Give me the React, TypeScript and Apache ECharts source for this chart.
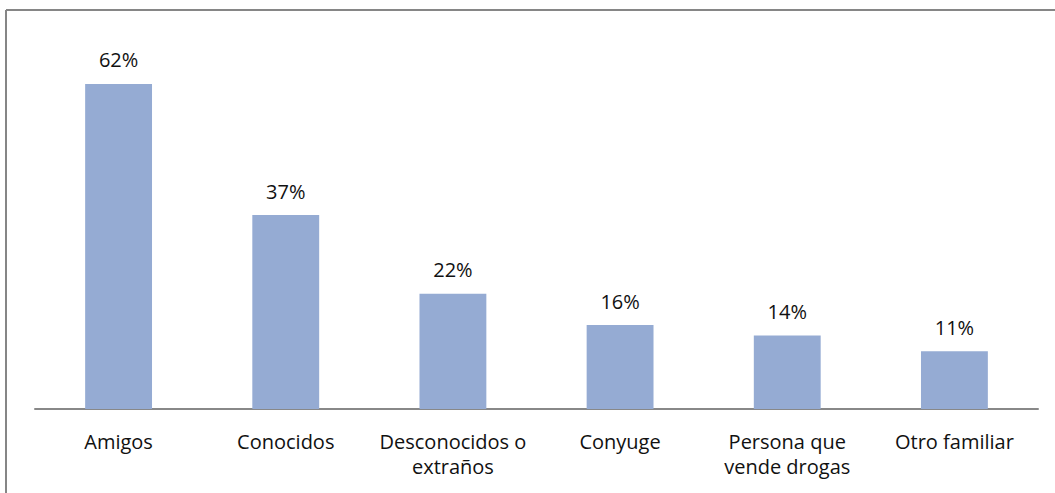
import React, { useEffect, useRef } from "react";
import * as echarts from "echarts";

const categories = [
  "Amigos",
  "Conocidos",
  "Desconocidos o\nextraños",
  "Conyuge",
  "Persona que\nvende drogas",
  "Otro familiar",
];
const values = [62, 37, 22, 16, 14, 11];
const valueMax = 70;

export default function App() {
  const ref = useRef<HTMLDivElement>(null);

  useEffect(() => {
    document.body.style.margin = "0";
    if (!ref.current) return;
    const chart = echarts.init(ref.current, undefined, { renderer: "svg" });
    chart.setOption({
      animation: false,
      backgroundColor: "#ffffff",
      textStyle: { fontFamily: "'Open Sans', Lato, sans-serif" },
      graphic: [
        {
          type: "line",
          shape: { x1: 6, y1: 10, x2: 1055, y2: 10 },
          style: { stroke: "#868686", lineWidth: 2 },
          silent: true,
        },
        {
          type: "line",
          shape: { x1: 6, y1: 10, x2: 6, y2: 493 },
          style: { stroke: "#868686", lineWidth: 2 },
          silent: true,
        },
      ],
      grid: { left: 35, right: 17, top: 42, bottom: 84, containLabel: false },
      xAxis: {
        type: "category",
        data: categories,
        axisLine: { lineStyle: { color: "#888888", width: 2 } },
        axisTick: { show: false },
        axisLabel: {
          color: "#111111",
          fontSize: 20,
          lineHeight: 25,
          margin: 20,
          interval: 0,
        },
      },
      yAxis: {
        type: "value",
        min: 0,
        max: valueMax,
        show: false,
        splitLine: { show: false },
      },
      series: [
        {
          type: "bar",
          data: values,
          barWidth: "40%",
          itemStyle: { color: "#95ABD3" },
          label: {
            show: true,
            position: "top",
            distance: 14,
            formatter: "{c}%",
            color: "#111111",
            fontSize: 20,
          },
        },
      ],
    });
    return () => chart.dispose();
  }, []);

  return <div ref={ref} style={{ width: 1055, height: 493 }} />;
}
